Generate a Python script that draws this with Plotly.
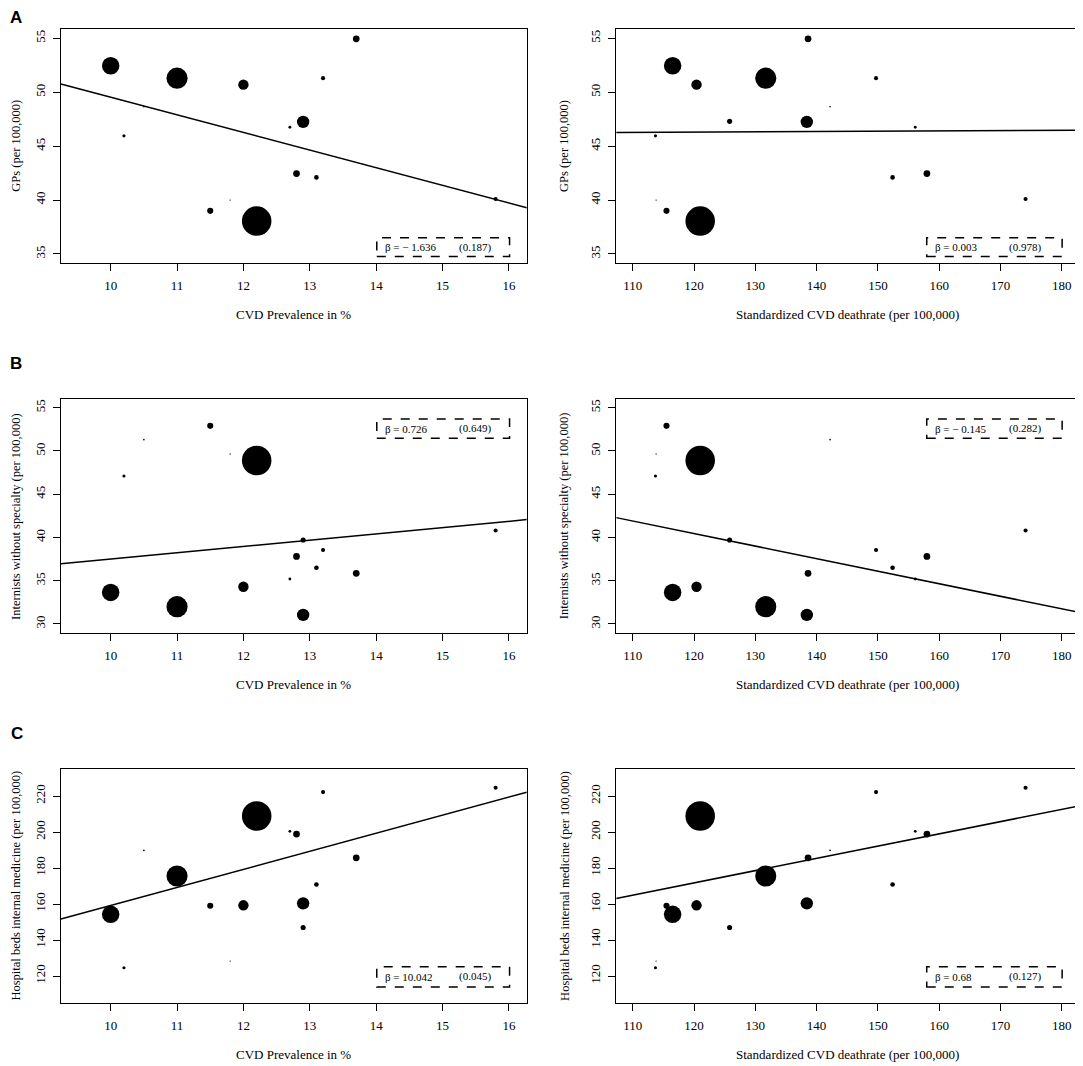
import plotly.graph_objects as go

# one entry per state, same order in every list
prevalence = [11.5, 11.8, 12.2, 10.2, 10.5, 15.8, 12.9, 13.2, 12.8, 13.1, 12.7, 13.7, 12.0, 10.0, 11.0, 12.9]
deathrate = [115.5, 113.8, 121.0, 113.7, 142.2, 174.1, 125.8, 149.7, 158.0, 152.4, 156.1, 138.6, 120.4, 116.5, 131.7, 138.4]
gps = [39.0, 40.0, 38.05, 45.95, 48.65, 40.1, 47.3, 51.3, 42.45, 42.1, 46.75, 54.95, 50.7, 52.45, 51.3, 47.25]
internists = [52.9, 49.65, 48.9, 47.1, 51.3, 40.8, 39.7, 38.55, 37.8, 36.5, 35.2, 35.85, 34.3, 33.65, 32.0, 31.05]
beds = [159.1, 128.3, 208.9, 124.6, 189.8, 224.6, 147.0, 222.2, 198.9, 170.9, 200.4, 185.7, 159.3, 154.3, 175.6, 160.4]
population = [3.7, 0.7, 17.9, 1.9, 1.0, 2.5, 3.1, 2.5, 4.1, 2.8, 1.7, 4.1, 6.3, 10.6, 12.8, 7.5]  # millions

# regression results per panel: (slope, intercept, beta label, p label)
fit_gps_prev = (-1.636, 65.9, "β = − 1.636", "(0.187)")
fit_gps_death = (0.003, 45.93, "β = 0.003", "(0.978)")
fit_int_prev = (0.726, 30.25, "β = 0.726", "(0.649)")
fit_int_death = (-0.145, 57.85, "β = − 0.145", "(0.282)")
fit_beds_prev = (10.042, 58.78, "β = 10.042", "(0.045)")
fit_beds_death = (0.68, 90.19, "β = 0.68", "(0.127)")

prev_ticks = [10, 11, 12, 13, 14, 15, 16]
death_ticks = [110, 120, 130, 140, 150, 160, 170, 180]
gps_ticks = [35, 40, 45, 50, 55]
int_ticks = [30, 35, 40, 45, 50, 55]
beds_ticks = [120, 140, 160, 180, 200, 220]

# page has an 8px body margin, so the figure is a bit smaller than the window
OFF = 8
W, H = 1083 - OFF, 1066 - OFF
SERIF = "Liberation Serif, Times New Roman, serif"


def px_x(v):
    return (v - OFF) / W


def px_y(v):
    return 1 - (v - OFF) / H


col_x = [(60.9, 526.8), (616.2, 1078.3)]
row_y = [(29, 262.7), (399.3, 632.7), (768.7, 1002.7)]
col_range = [[9.25, 16.27], [107.29, 182.71]]
row_range = [[34.19, 55.86], [28.99, 55.97], [105.2, 235.2]]
box_y = [(0.027, 0.107), (0.833, 0.916), (0.067, 0.154)]

panels = [
    (0, 0, prevalence, gps, fit_gps_prev, prev_ticks, gps_ticks, "CVD Prevalence in %", "GPs (per 100,000)"),
    (0, 1, deathrate, gps, fit_gps_death, death_ticks, gps_ticks, "Standardized CVD deathrate (per 100,000)", "GPs (per 100,000)"),
    (1, 0, prevalence, internists, fit_int_prev, prev_ticks, int_ticks, "CVD Prevalence in %", "Internists without specialty (per 100,000)"),
    (1, 1, deathrate, internists, fit_int_death, death_ticks, int_ticks, "Standardized CVD deathrate (per 100,000)", "Internists without specialty (per 100,000)"),
    (2, 0, prevalence, beds, fit_beds_prev, prev_ticks, beds_ticks, "CVD Prevalence in %", "Hospital beds internal medicine (per 100,000)"),
    (2, 1, deathrate, beds, fit_beds_death, death_ticks, beds_ticks, "Standardized CVD deathrate (per 100,000)", "Hospital beds internal medicine (per 100,000)"),
]

sizes = [max(1.3, 1.65 * p) for p in population]

fig = go.Figure()
layout = dict(width=W, height=H, margin=dict(l=0, r=0, t=0, b=0),
              plot_bgcolor="white", paper_bgcolor="white", showlegend=False)
shapes = []
annotations = []

for i, (row, col, xs, ys, fit, xt, yt, xtitle, ytitle) in enumerate(panels):
    n = i + 1
    xa = "x" if n == 1 else "x%d" % n
    ya = "y" if n == 1 else "y%d" % n
    x0, x1 = col_x[col]
    y0, y1 = row_y[row]
    axis_common = dict(showline=True, linecolor="black", linewidth=1.3, mirror=True,
                       ticks="outside", ticklen=7, tickwidth=1.2, tickcolor="black",
                       showgrid=False, zeroline=False,
                       tickfont=dict(family=SERIF, size=13, color="black"))
    layout["xaxis" if n == 1 else "xaxis%d" % n] = dict(
        axis_common, domain=[px_x(x0), px_x(x1)], range=col_range[col],
        tickvals=xt, anchor=ya, ticklabelstandoff=4)
    layout["yaxis" if n == 1 else "yaxis%d" % n] = dict(
        axis_common, domain=[px_y(y1), px_y(y0)], range=row_range[row],
        tickvals=yt, anchor=xa, tickangle=-90, ticklabelstandoff=3)

    fig.add_trace(go.Scatter(x=xs, y=ys, mode="markers", xaxis=xa, yaxis=ya,
                             marker=dict(color="black", size=sizes, opacity=1, line=dict(width=0))))
    slope, icpt, btxt, ptxt = fit
    lx = col_range[col]
    fig.add_trace(go.Scatter(x=lx, y=[icpt + slope * v for v in lx], mode="lines",
                             xaxis=xa, yaxis=ya, line=dict(color="black", width=1.5)))

    xd = xa + " domain"
    yd = ya + " domain"
    bx = (0.678, 0.963) if col == 0 else (0.672, 0.965)
    by = box_y[row]
    shapes.append(dict(type="rect", xref=xd, yref=yd, x0=bx[0], x1=bx[1], y0=by[0], y1=by[1],
                       line=dict(color="black", width=1.5, dash="dash")))
    ym = (by[0] + by[1]) / 2
    annotations.append(dict(xref=xd, yref=yd, x=bx[0] + 0.014, y=ym, text=btxt, showarrow=False,
                            xanchor="left", yanchor="middle",
                            font=dict(family=SERIF, size=11, color="black")))
    annotations.append(dict(xref=xd, yref=yd, x=0.85 if col == 0 else 0.8465, y=ym, text=ptxt,
                            showarrow=False, xanchor="left", yanchor="middle",
                            font=dict(family=SERIF, size=11, color="black")))
    annotations.append(dict(xref=xd, yref=yd, x=0, y=0, yshift=-52, xshift=(x1 - x0) / 2,
                            text=xtitle, showarrow=False,
                            xanchor="center", yanchor="middle",
                            font=dict(family=SERIF, size=13, color="black")))
    # y titles sit just right of the page margin
    annotations.append(dict(xref=xd, yref=yd, x=0, y=0.5, xshift=-45 if col == 0 else -52,
                            text=ytitle, showarrow=False, textangle=-90,
                            xanchor="center", yanchor="middle",
                            font=dict(family=SERIF, size=12.5, color="black")))

for letter, lx_, ly in [("A", 16, 18), ("B", 16, 363), ("C", 17, 733)]:
    annotations.append(dict(xref="paper", yref="paper", x=px_x(lx_), y=px_y(ly), text="<b>%s</b>" % letter,
                            showarrow=False, xanchor="center", yanchor="middle",
                            font=dict(family="Liberation Sans, Arial, sans-serif", size=17, color="black")))

layout["shapes"] = shapes
layout["annotations"] = annotations
fig.update_layout(**layout)
fig.write_html("out.html")
